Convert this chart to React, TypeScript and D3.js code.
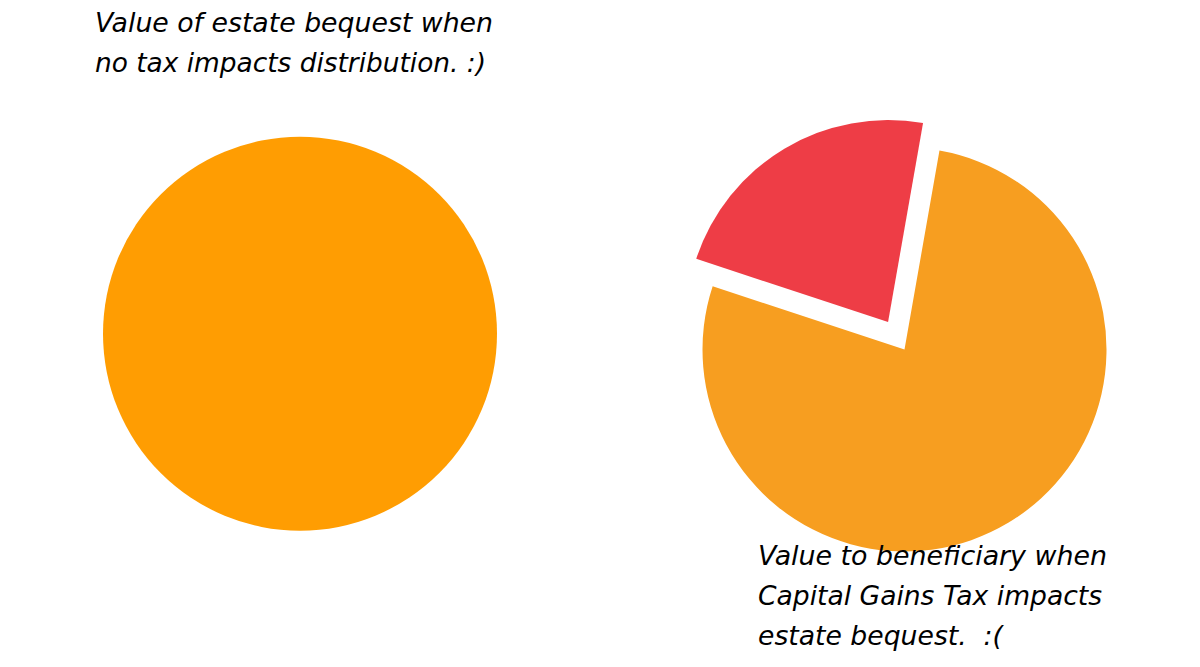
import React from "react";
import * as d3 from "d3";

const leftCategories = ["Estate bequest"];
const leftValues = [100];
const rightCategories = ["Capital Gains Tax", "Value to beneficiary"];
const rightValues = [22.7, 77.3];
const leftTitle = ["Value of estate bequest when", "no tax impacts distribution. :)"];
const rightTitle = ["Value to beneficiary when", "Capital Gains Tax impacts", "estate bequest.\u00a0\u00a0:("];

const W = 1200;
const H = 667;
const FONT = "'DejaVu Sans', sans-serif";

export default function App() {
  const leftPie = d3.pie<number>().sort(null)(leftValues);
  const leftArc = d3.arc<d3.PieArcDatum<number>>().innerRadius(0).outerRadius(197);

  const startDeg = -71.75;
  const rightPie = d3
    .pie<number>()
    .sort(null)
    .startAngle((startDeg * Math.PI) / 180)
    .endAngle(((startDeg + 360) * Math.PI) / 180)(rightValues);
  const rightArc = d3.arc<d3.PieArcDatum<number>>().innerRadius(0).outerRadius(202);
  const rightColors = ["#EE3D46", "#F79E20"];
  const explode = [32, 0];

  const leftWidths = [398, 391];
  const rightWidths = [349, 344, 245];

  return (
    <svg
      width={W}
      height={H}
      style={{ position: "absolute", left: 0, top: 0, background: "#fff" }}
    >
      <g transform="translate(300,333.7)">
        {leftPie.map((d, i) => (
          <path key={leftCategories[i]} d={leftArc(d) || ""} fill="#FF9D02" />
        ))}
      </g>
      <g transform="translate(904.5,349.5)">
        {rightPie.map((d, i) => {
          const mid = (d.startAngle + d.endAngle) / 2;
          const dx = Math.sin(mid) * explode[i];
          const dy = -Math.cos(mid) * explode[i];
          return (
            <path
              key={rightCategories[i]}
              d={rightArc(d) || ""}
              fill={rightColors[i]}
              transform={`translate(${dx},${dy})`}
            />
          );
        })}
      </g>
      <g fontFamily={FONT} fontStyle="italic" fontSize={27} fill="#000">
        {leftTitle.map((t, i) => (
          <text
            key={t}
            x={95}
            y={32 + i * 40}
            textLength={leftWidths[i]}
            lengthAdjust="spacingAndGlyphs"
          >
            {t}
          </text>
        ))}
        {rightTitle.map((t, i) => (
          <text
            key={t}
            x={758}
            y={565 + i * 40}
            textLength={rightWidths[i]}
            lengthAdjust="spacingAndGlyphs"
          >
            {t}
          </text>
        ))}
      </g>
    </svg>
  );
}
